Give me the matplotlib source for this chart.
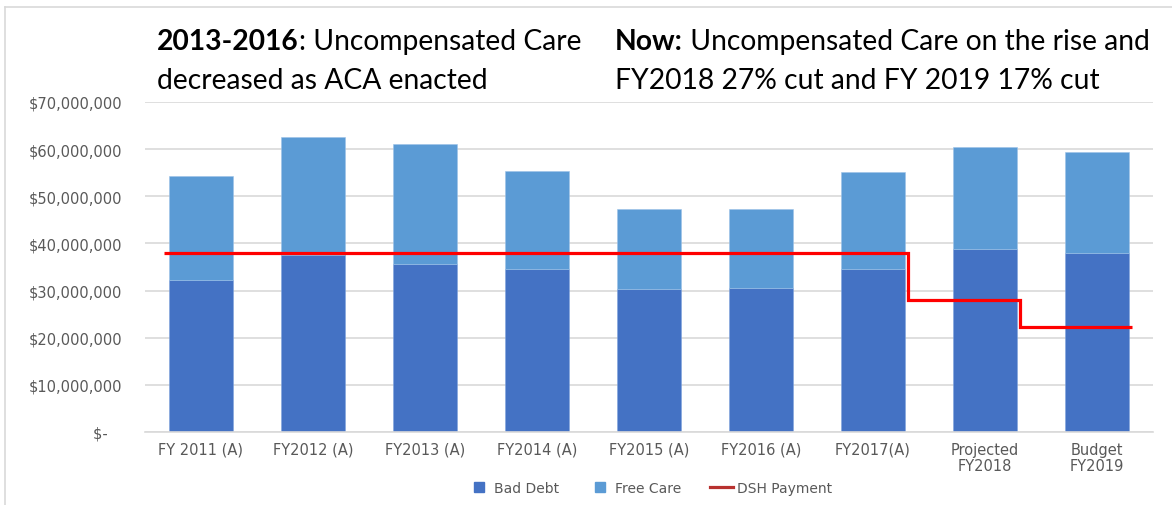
import matplotlib
matplotlib.use("Agg")
import matplotlib.pyplot as plt
import numpy as np
from matplotlib.lines import Line2D
from matplotlib.ticker import FuncFormatter

categories = ["FY 2011 (A)", "FY2012 (A)", "FY2013 (A)", "FY2014 (A)", "FY2015 (A)",
              "FY2016 (A)", "FY2017(A)", "Projected\nFY2018", "Budget\nFY2019"]
totals = [54.2, 62.6, 61.1, 55.4, 47.4, 47.3, 55.1, 60.4, 59.3]          # $M, bar tops
bad_debt = [32.3, 37.6, 35.7, 34.6, 30.4, 30.6, 34.5, 38.9, 37.9]        # $M
free_care = [t - b for t, b in zip(totals, bad_debt)]                     # $M
dsh_payment = [37.9, 37.9, 37.9, 37.9, 37.9, 37.9, 37.9, 28.1, 22.2]      # $M
yticks = [0, 10, 20, 30, 40, 50, 60, 70]

C_BAD = "#4472C4"
C_FREE = "#5B9BD5"
C_DSH = "#FF0000"
GRID = "#D9D9D9"
TXT = "#595959"

W, H = 1172, 506
fig = plt.figure(figsize=(W / 100, H / 100), dpi=100)
ax = fig.add_axes([145 / W, 1 - 433 / H, (1153 - 145) / W, (433 - 103) / H])

x = np.arange(len(categories))
scale = 1e6
bw = 0.57
ax.bar(x, np.array(bad_debt) * scale, width=bw, color=C_BAD, edgecolor="#7FA3DC", linewidth=0.4, zorder=2)
ax.bar(x, np.array(free_care) * scale, width=bw, bottom=np.array(bad_debt) * scale,
       color=C_FREE, edgecolor="#9CC3E8", linewidth=0.4, zorder=2)

edges = np.concatenate([[x[0] - 0.33], x + 0.31])
ax.stairs(np.array(dsh_payment) * scale, edges, color=C_DSH, linewidth=2.3, zorder=3,
          baseline=None)

ax.set_xlim(-0.5, len(categories) - 0.5)
ax.set_ylim(0, 70 * scale)
ax.set_yticks(np.array(yticks) * scale)
ax.yaxis.set_major_formatter(FuncFormatter(lambda v, p: "$-   " if v == 0 else f"${v:,.0f}"))
ax.set_xticks(x)
ax.set_xticklabels(categories, linespacing=1.1)
ax.grid(axis="y", color=GRID, linewidth=1.2, zorder=0)
for s in ["top", "right", "left"]:
    ax.spines[s].set_visible(False)
ax.spines["bottom"].set_color(GRID)
ax.spines["bottom"].set_linewidth(1.2)
ax.tick_params(axis="both", length=0, colors=TXT, labelsize=10.5)
ax.tick_params(axis="y", pad=16.5)
ax.tick_params(axis="x", pad=7)

handles = [Line2D([], [], linestyle="none", marker="s", markersize=7, color=C_BAD, label="Bad Debt"),
           Line2D([], [], linestyle="none", marker="s", markersize=7, color=C_FREE, label="Free Care"),
           Line2D([], [], color="#B8312F", linewidth=2.3, label="DSH Payment")]
leg = fig.legend(handles=handles, loc="center", bbox_to_anchor=(650 / W, 1 - 489 / H),
                 ncol=3, frameon=False, fontsize=10, handlelength=1.6,
                 columnspacing=2.1, handletextpad=0.3, labelcolor=TXT)

# Outer frame lines (top and left)
fig.add_artist(Line2D([5 / W, 1], [1 - 8 / H, 1 - 8 / H], color=GRID, linewidth=1.2))
fig.add_artist(Line2D([5 / W, 5 / W], [0, 1 - 8 / H], color=GRID, linewidth=1.2))

# Annotations
FS = 20.3
FAM = "Lato"
tf = dict(fontsize=FS, family=FAM, color="black", va="baseline")
y1 = 1 - 50 / H
y2 = 1 - 89 / H
t1 = fig.text(157 / W, y1, "2013-2016", fontweight="bold", **tf)
t2 = fig.text(615 / W, y1, "Now:", fontweight="bold", **tf)
fig.canvas.draw()
r = fig.canvas.get_renderer()
x1 = t1.get_window_extent(r).x1 / W
x2 = t2.get_window_extent(r).x1 / W
fig.text(x1, y1, ": Uncompensated Care", **tf)
fig.text(x2, y1, " Uncompensated Care on the rise and", **tf)
fig.text(157 / W, y2, "decreased as ACA enacted", **tf)
fig.text(615 / W, y2, "FY2018 27% cut and FY 2019 17% cut", **tf)

fig.savefig("out.png", dpi=100)
